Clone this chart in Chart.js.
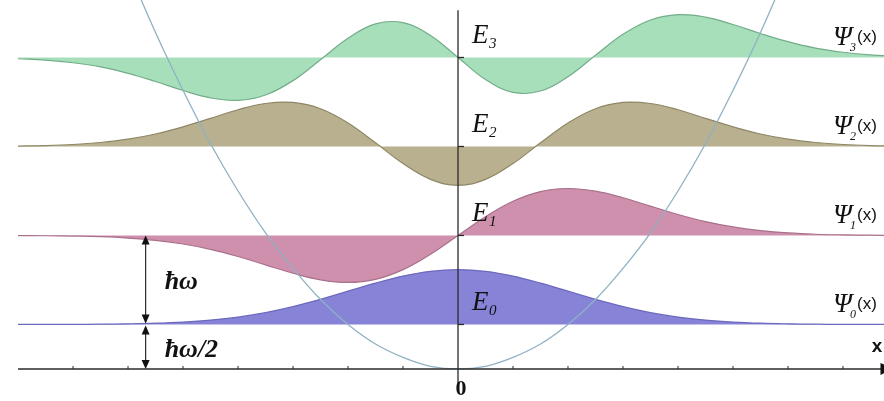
<!DOCTYPE html>
<html>
<head>
<meta charset="utf-8">
<script src="https://cdn.jsdelivr.net/npm/chart.js@4"></script>
<style>
  body { margin: 0; background: #fff; }
  #caja { width: 884px; height: 401px; position: relative; }
</style>
</head>
<body>
<div id="caja"><canvas id="osciladorChart"></canvas></div>
<script>
// Posiciones x (unidades naturales del oscilador)
const posiciones = [-4, -3.75, -3.5, -3.25, -3, -2.75, -2.5, -2.25, -2, -1.75, -1.5, -1.25, -1, -0.75, -0.5, -0.25,
    0, 0.25, 0.5, 0.75, 1, 1.25, 1.5, 1.75, 2, 2.25, 2.5, 2.75, 3, 3.25, 3.5, 3.75, 4];

// Niveles de energia en unidades de ħω
const niveles = [0.5, 1.5, 2.5, 3.5];
const etiquetasE = ['0', '1', '2', '3'];

// Potencial V(x)
const potencial = [8, 7.03, 6.13, 5.28, 4.5, 3.78, 3.13, 2.53, 2, 1.53, 1.13, 0.78, 0.5, 0.28, 0.13, 0.03,
    0, 0.03, 0.13, 0.28, 0.5, 0.78, 1.13, 1.53, 2, 2.53, 3.13, 3.78, 4.5, 5.28, 6.13, 7.03, 8];

// Funciones de onda (desplazamiento sobre su nivel)
const psi0 = [0, 0, 0.001, 0.003, 0.007, 0.014, 0.027, 0.049, 0.083, 0.133, 0.2, 0.282, 0.374, 0.465, 0.544, 0.597,
    0.616, 0.597, 0.544, 0.465, 0.374, 0.282, 0.2, 0.133, 0.083, 0.049, 0.027, 0.014, 0.007, 0.003, 0.001, 0, 0];
const psi1 = [-0.001, -0.003, -0.007, -0.014, -0.029, -0.055, -0.096, -0.156, -0.236, -0.33, -0.424, -0.498, -0.528, -0.493, -0.384, -0.211,
    0, 0.211, 0.384, 0.493, 0.528, 0.498, 0.424, 0.33, 0.236, 0.156, 0.096, 0.055, 0.029, 0.014, 0.007, 0.003, 0.001];
const psi2 = [0.005, 0.01, 0.022, 0.045, 0.082, 0.14, 0.22, 0.316, 0.413, 0.483, 0.495, 0.424, 0.264, 0.041, -0.192, -0.369,
    -0.436, -0.369, -0.192, 0.041, 0.264, 0.424, 0.495, 0.483, 0.413, 0.316, 0.22, 0.14, 0.082, 0.045, 0.022, 0.01, 0.005];
const psi3 = [-0.014, -0.029, -0.059, -0.106, -0.178, -0.27, -0.371, -0.454, -0.481, -0.421, -0.26, -0.025, 0.216, 0.377, 0.392, 0.248,
    0, -0.248, -0.392, -0.377, -0.216, 0.025, 0.26, 0.421, 0.481, 0.454, 0.371, 0.27, 0.178, 0.106, 0.059, 0.029, 0.014];

const ondas = [psi0, psi1, psi2, psi3];
const rellenos = ['#8784d8', '#cf90ad', '#b8b08f', '#a8dfbb'];
const bordes = ['#6c68bd', '#a9708c', '#8e8766', '#73ad8a'];

const datasets = [{
    label: 'V(x)',
    data: posiciones.map((x, i) => ({ x: x, y: potencial[i] })),
    borderColor: '#8fb1c4',
    borderWidth: 1.3,
    pointRadius: 0,
    fill: false,
    tension: 0.4,
    order: 0
}];

ondas.forEach((psi, n) => {
    datasets.push({
        label: 'psi' + n,
        data: posiciones.map((x, i) => ({ x: x, y: niveles[n] + psi[i] })),
        borderColor: bordes[n],
        borderWidth: 1.2,
        backgroundColor: rellenos[n],
        pointRadius: 0,
        fill: { value: niveles[n] },
        tension: 0.4,
        order: 1 + n
    });
});

function flecha(ctx, x, y, dir) {
    // punta de flecha vertical, dir = 1 hacia abajo, -1 hacia arriba
    ctx.beginPath();
    ctx.moveTo(x, y);
    ctx.lineTo(x - 4, y - dir * 9);
    ctx.lineTo(x + 4, y - dir * 9);
    ctx.closePath();
    ctx.fill();
}

const decoracion = {
    id: 'decoracion',
    afterDatasetsDraw(chart) {
        const { ctx, scales: { x, y } } = chart;
        const x0 = x.getPixelForValue(0);
        const y0 = y.getPixelForValue(0);
        ctx.save();
        ctx.strokeStyle = '#2a2a2a';
        ctx.fillStyle = '#111';
        ctx.lineWidth = 1.4;

        // eje x con flecha
        const xIni = x.getPixelForValue(-4);
        const xFin = x.getPixelForValue(3.85);
        ctx.beginPath();
        ctx.moveTo(xIni, y0);
        ctx.lineTo(xFin, y0);
        ctx.stroke();
        ctx.beginPath();
        ctx.moveTo(xFin + 12, y0);
        ctx.lineTo(xFin - 1, y0 - 6);
        ctx.lineTo(xFin - 1, y0 + 6);
        ctx.closePath();
        ctx.fill();

        // marcas del eje x
        ctx.lineWidth = 1;
        for (let t = -3.5; t <= 3.5; t += 0.5) {
            if (t === 0) continue;
            const px = x.getPixelForValue(t);
            ctx.beginPath();
            ctx.moveTo(px, y0);
            ctx.lineTo(px, y0 - 3);
            ctx.stroke();
        }

        // eje vertical
        ctx.lineWidth = 1.3;
        ctx.beginPath();
        ctx.moveTo(x0, y.getPixelForValue(4.03));
        ctx.lineTo(x0, y0 + 16);
        ctx.stroke();

        // marcas de los niveles
        niveles.forEach(e => {
            const py = y.getPixelForValue(e);
            ctx.beginPath();
            ctx.moveTo(x0, py);
            ctx.lineTo(x0 + 6, py);
            ctx.stroke();
        });

        // flechas ħω y ħω/2
        const xf = x.getPixelForValue(-2.84);
        const yE0 = y.getPixelForValue(niveles[0]);
        const yE1 = y.getPixelForValue(niveles[1]);
        ctx.lineWidth = 1.2;
        ctx.beginPath();
        ctx.moveTo(xf, yE1 + 2);
        ctx.lineTo(xf, yE0 - 3);
        ctx.moveTo(xf, yE0 + 3);
        ctx.lineTo(xf, y0 - 2);
        ctx.stroke();
        flecha(ctx, xf, yE1, -1);
        flecha(ctx, xf, yE0 - 1, 1);
        flecha(ctx, xf, yE0 + 1, -1);
        flecha(ctx, xf, y0, 1);

        // textos
        ctx.fillStyle = '#111';
        ctx.textBaseline = 'alphabetic';
        niveles.forEach((e, n) => {
            const py = y.getPixelForValue(e);
            ctx.textAlign = 'left';
            ctx.font = 'italic 27px "Liberation Serif"';
            ctx.fillText('E', x0 + 14, py - 14);
            ctx.font = 'italic 15px "Liberation Serif"';
            ctx.fillText(etiquetasE[n], x0 + 31, py - 9);

            ctx.font = 'italic 27px "Liberation Serif"';
            ctx.fillText('Ψ', 833, py - 12);
            ctx.font = 'italic 12px "Liberation Serif"';
            ctx.fillText(etiquetasE[n], 850, py - 6);
            ctx.font = '17px "Liberation Sans"';
            ctx.fillText('(x)', 857, py - 15);
        });

        ctx.font = 'bold italic 26px "Liberation Serif"';
        ctx.fillText('ħω', xf + 19, (yE0 + yE1) / 2 + 9);
        ctx.fillText('ħω/2', xf + 19, (yE0 + y0) / 2 + 10);

        ctx.font = 'bold 22px "Liberation Serif"';
        ctx.textAlign = 'center';
        ctx.fillText('0', x0 + 3, y0 + 26);

        ctx.font = 'bold 19px "Liberation Sans"';
        ctx.fillText('x', 877, y0 - 17);
        ctx.restore();
    }
};

new Chart(document.getElementById('osciladorChart'), {
    type: 'line',
    data: { datasets: datasets },
    options: {
        responsive: true,
        maintainAspectRatio: false,
        animation: false,
        layout: { padding: 0 },
        plugins: {
            legend: { display: false },
            tooltip: { enabled: false }
        },
        scales: {
            x: { type: 'linear', min: -4.164, max: 3.873, display: false },
            y: { min: -0.36, max: 4.146, display: false }
        }
    },
    plugins: [decoracion]
});
</script>
</body>
</html>
